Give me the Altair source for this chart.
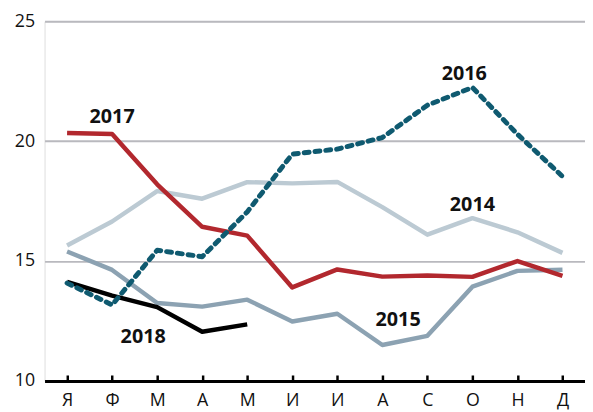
import json
import altair as alt
import pandas as pd

months = ['Я', 'Ф', 'М', 'А', 'М', 'И', 'И', 'А', 'С', 'О', 'Н', 'Д']
v2014 = [15.65, 16.65, 17.92, 17.6, 18.29, 18.24, 18.3, 17.25, 16.1, 16.79, 16.2, 15.34]
v2015 = [15.4, 14.63, 13.25, 13.1, 13.39, 12.48, 12.8, 11.5, 11.88, 13.93, 14.59, 14.64]
v2016 = [14.08, 13.17, 15.45, 15.18, 17.05, 19.46, 19.67, 20.15, 21.5, 22.24, 20.29, 18.53]
v2017 = [20.34, 20.3, 18.2, 16.43, 16.06, 13.9, 14.65, 14.35, 14.4, 14.34, 15.0, 14.38]
v2018 = [14.13, 13.56, 13.08, 12.05, 12.36]

label_years = ['2014', '2015', '2016', '2017', '2018']
label_x = [9.0, 7.35, 8.82, 1.0, 1.69]
label_y = [17.33, 12.55, 22.81, 21.0, 11.81]

W, H = 547, 364
FONT = "Open Sans"

label_expr = json.dumps(months, ensure_ascii=False) + "[datum.value]"

xscale = alt.Scale(domain=[-0.5, 11.5], nice=False, zero=False)
yscale = alt.Scale(domain=[10, 25], nice=False, zero=False)

x_enc = alt.X('m:Q', scale=xscale, axis=alt.Axis(
    values=list(range(12)), labelExpr=label_expr, title=None, grid=False,
    ticks=False, domain=True, domainColor='#000000', domainWidth=3,
    labelFont=FONT, labelFontSize=18, labelColor='#111111', labelPadding=11,
    labelBaseline='top'))
y_enc = alt.Y('v:Q', scale=yscale, axis=alt.Axis(
    values=[10, 15, 20, 25], title=None, grid=True, gridColor='#b9b9be',
    gridWidth=2, domain=False, ticks=False, labelFont=FONT, labelFontSize=18,
    labelColor='#111111', labelPadding=10))


def series(vals):
    return pd.DataFrame({'m': list(range(len(vals))), 'v': vals})


def line(vals, color, dash=None, width=4.5):
    kw = dict(color=color, strokeWidth=width, strokeJoin='round')
    if dash:
        kw.update(strokeDash=dash, strokeCap='round')
    return alt.Chart(series(vals)).mark_line(**kw).encode(x=x_enc, y=y_enc)


labels = pd.DataFrame({'t': label_years, 'm': label_x, 'v': label_y})
text = alt.Chart(labels).mark_text(
    font=FONT, fontSize=20, fontWeight='bold', color='#111111',
    align='center', baseline='middle').encode(x=x_enc, y=y_enc, text='t:N')

main = alt.layer(
    line(v2014, '#bccad3'),
    line(v2015, '#8ca2b2'),
    line(v2017, '#b2282e'),
    line(v2018, '#000000'),
    line(v2016, '#0f5a70', dash=[5, 6], width=5),
    text,
)

tick_layer = alt.Chart(pd.DataFrame({'m': list(range(12))})).mark_point(
    opacity=0).encode(
    x=alt.X('m:Q', scale=xscale, axis=alt.Axis(
        orient='top', offset=-H, values=list(range(12)), labels=False,
        domain=False, grid=False, ticks=True, tickColor='#000000',
        tickWidth=2.5, tickSize=6, title=None)),
    y=alt.value(0))

chart = alt.layer(main, tick_layer).resolve_axis(x='independent').properties(
    width=W, height=H,
    autosize=alt.AutoSizeParams(type='none'),
    padding={'left': 37, 'top': 11, 'right': 0, 'bottom': 29},
).configure_view(stroke=None).configure(background='#ffffff')

chart.save("out.html", embed_options={"renderer": "svg", "actions": False})
